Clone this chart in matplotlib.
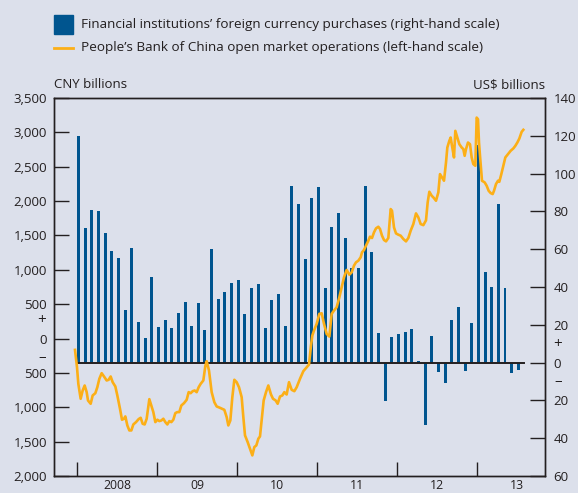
import numpy as np
import matplotlib.pyplot as plt
from matplotlib.patches import Rectangle
from matplotlib.lines import Line2D

plt.rcParams['font.family'] = ['Open Sans', 'DejaVu Sans']

# Financial institutions' foreign currency purchases, monthly Jan 2008 - Jul 2013
# (US$ billions, right-hand scale)
purchases = [120, 71, 81, 80.4, 68.8, 59.3, 55.6, 28, 60.8, 21.7, 13.2, 45.5,
             19, 22.8, 18.5, 26.5, 32.3, 19.6, 31.7, 17.5, 60.3, 33.9, 37.6, 42.3,
             43.9, 25.9, 39.7, 41.8, 18.5, 33.3, 36.5, 19.6, 93.7, 84.1, 55, 87.3,
             93.1, 39.7, 72, 79.4, 66.1, 50.3, 50.3, 93.7, 58.7, 15.9, -20.5, 13.8,
             15.3, 16.4, 18, 0.8, -33.2, 14.3, -5.1, -10.9, 22.8, 29.6, -4.6, 21.2,
             115.3, 48.1, 40.2, 84.1, 39.7, -5.7, -3.7]

# People's Bank of China open market operations (CNY billions, left-hand scale)
# time in months since start of 2008
omo_month = [-0.3, 0.0, 0.2, 0.55, 0.85, 1.15, 1.45, 1.65, 2.05, 2.35, 2.75, 3.05,
             3.35, 3.7, 4.05, 4.45, 4.75, 5.05, 5.35, 5.75, 6.05, 6.45, 6.75, 7.05,
             7.25, 7.55, 7.85, 8.15, 8.45, 8.85, 9.25, 9.55, 9.85, 10.15, 10.45, 10.85,
             11.15, 11.45, 11.75, 12.05, 12.35, 12.65, 12.95, 13.25, 13.55, 13.85, 14.15, 14.45,
             14.75, 15.05, 15.35, 15.65, 16.05, 16.45, 16.75, 17.05, 17.35, 17.65, 17.95, 18.25,
             18.55, 18.95, 19.25, 19.45, 19.8, 20.2, 20.6, 20.95, 21.45, 22.1, 22.45, 22.7,
             23.0, 23.3, 23.6, 23.95, 24.3, 24.7, 24.95, 25.2, 25.6, 25.95, 26.3, 26.6,
             26.9, 27.2, 27.45, 27.7, 28.0, 28.35, 28.7, 29.1, 29.4, 29.8, 30.1, 30.45,
             30.8, 31.1, 31.45, 31.8, 32.2, 32.6, 32.95, 33.45, 33.95, 34.45, 34.8, 35.1,
             35.3, 35.55, 35.95, 36.35, 36.7, 37.05, 37.45, 37.85, 38.2, 38.55, 38.95, 39.35,
             39.7, 40.05, 40.45, 40.85, 41.2, 41.55, 41.85, 42.2, 42.55, 42.75, 43.05, 43.35,
             43.7, 43.95, 44.25, 44.55, 44.85, 45.2, 45.45, 45.75, 46.05, 46.35, 46.7, 47.05,
             47.25, 47.55, 47.85, 48.2, 48.55, 48.95, 49.35, 49.7, 50.05, 50.45, 50.85, 51.2,
             51.55, 51.95, 52.35, 52.6, 52.85, 53.2, 53.45, 53.85, 54.2, 54.45, 54.75, 55.05,
             55.35, 55.55, 55.85, 56.05, 56.25, 56.55, 56.75, 57.05, 57.35, 57.7, 57.95, 58.15,
             58.35, 58.65, 58.95, 59.2, 59.45, 59.75, 59.95, 60.15, 60.3, 60.45, 60.75, 61.15,
             61.45, 61.75, 62.05, 62.35, 62.55, 62.85, 63.15, 63.35, 63.65, 63.95, 64.25, 64.65,
             65.05, 65.45, 65.75, 66.05, 66.35, 66.7, 66.95]
omo_value = [-165, -417, -659, -876, -756, -683, -780, -901, -949, -828, -795, -708,
             -586, -504, -552, -610, -600, -552, -635, -697, -828, -1022, -1181, -1167,
             -1133, -1264, -1337, -1337, -1250, -1216, -1172, -1153, -1240, -1250, -1167, -882,
             -974, -1070, -1216, -1181, -1201, -1192, -1167, -1216, -1250, -1201, -1216, -1181,
             -1085, -1070, -1070, -974, -940, -891, -780, -795, -766, -756, -780, -708,
             -659, -610, -400, -330, -465, -780, -926, -988, -1008, -1037, -1143, -1264,
             -1192, -853, -600, -635, -708, -853, -1143, -1409, -1507, -1603, -1700, -1579,
             -1555, -1458, -1424, -1192, -901, -780, -683, -814, -876, -901, -949, -843,
             -828, -780, -814, -635, -746, -766, -708, -586, -475, -417, -378, -102,
             44, 116, 214, 359, 368, 214, 68, 29, 359, 407, 455, 600,
             745, 891, 998, 930, 963, 1061, 1109, 1133, 1182, 1254, 1289, 1351,
             1424, 1482, 1463, 1545, 1603, 1627, 1594, 1497, 1434, 1414, 1463, 1884,
             1860, 1617, 1530, 1511, 1497, 1448, 1414, 1463, 1569, 1666, 1821, 1763,
             1666, 1650, 1720, 1980, 2136, 2078, 2054, 2005, 2126, 2393, 2344, 2296,
             2562, 2780, 2877, 2925, 2804, 2635, 3022, 2925, 2828, 2780, 2756, 2659,
             2756, 2852, 2828, 2635, 2538, 2514, 3215, 3191, 2852, 2659, 2296, 2272,
             2223, 2150, 2117, 2102, 2150, 2248, 2296, 2281, 2393, 2514, 2635, 2683,
             2732, 2766, 2804, 2852, 2910, 3008, 3037]

year_labels = ['2008', '09', '10', '11', '12', '13']
left_ticks = list(range(-2000, 3501, 500))
right_ticks = list(range(-60, 141, 20))

bg = '#dce0eb'
blue = '#00558f'
orange = '#fcaf17'
dark = '#231f20'
W, H = 578, 493

fig = plt.figure(figsize=(W / 100, H / 100), dpi=100, facecolor=bg)
ax = fig.add_axes([54 / W, 1 - 476 / H, 491 / W, 378 / H])
ax2 = ax.twinx()

# bars on the right-hand scale
months = np.arange(len(purchases))
ax2.bar(months + 0.2, purchases, width=0.45, color=blue, zorder=2)
ax2.plot([0, 67], [0, 0], color=dark, lw=1.4, zorder=3)

# line on the left-hand scale, drawn above the bars
ax.plot(omo_month, omo_value, color=orange, lw=1.9, solid_joinstyle='round')
ax.set_zorder(ax2.get_zorder() + 1)
ax.patch.set_visible(False)

ax.set_xlim(-3.45, 70.2)
ax.set_ylim(-2000, 3500)
ax2.set_ylim(-60, 140)

ax.set_yticks(left_ticks)
ax.set_yticklabels([f'{abs(v):,}' for v in left_ticks])
ax2.set_yticks(right_ticks)
ax2.set_yticklabels([f'{abs(v)}' for v in right_ticks])

ax.set_xticks(range(0, 61, 12))
ax.set_xticklabels([])
ax.set_xticks(range(6, 67, 12), minor=True)
ax.set_xticklabels(year_labels, minor=True)

ax.tick_params(axis='y', direction='in', length=11, width=1, color=dark,
               labelsize=9.5, labelcolor=dark, pad=5)
ax2.tick_params(axis='y', direction='in', length=11, width=1, color=dark,
                labelsize=9.5, labelcolor=dark, pad=6)
ax.tick_params(axis='x', which='major', direction='in', length=10, width=1, color=dark)
ax.tick_params(axis='x', which='minor', length=0, labelsize=8.8, labelcolor=dark, pad=2.5)

for a in (ax, ax2):
    for s in a.spines.values():
        s.set_color(dark)
        s.set_linewidth(1)

# + / - markers around the zero lines
fig.text(42 / W, 1 - 320 / H, '+', ha='center', va='center', fontsize=11, color=dark)
fig.text(42 / W, 1 - 357 / H, '\u2013', ha='center', va='center', fontsize=11, color=dark)
fig.text(558 / W, 1 - 344 / H, '+', ha='center', va='center', fontsize=11, color=dark)
fig.text(558 / W, 1 - 381 / H, '\u2013', ha='center', va='center', fontsize=11, color=dark)

fig.text(54 / W, 1 - 85 / H, 'CNY billions', ha='left', va='center', fontsize=9.5, color=dark)
fig.text(545 / W, 1 - 85 / H, 'US$ billions', ha='right', va='center', fontsize=9.5, color=dark)

# legend
fig.add_artist(Rectangle((54 / W, 1 - 34 / H), 19 / W, 19 / H,
                         transform=fig.transFigure, color=blue))
fig.add_artist(Line2D([54 / W, 73 / W], [1 - 48 / H, 1 - 48 / H],
                      transform=fig.transFigure, color=orange, lw=2))
fig.text(81 / W, 1 - 24.5 / H,
         'Financial institutions\u2019 foreign currency purchases (right-hand scale)',
         ha='left', va='center', fontsize=9.7, color=dark)
fig.text(81 / W, 1 - 48 / H,
         'People\u2019s Bank of China open market operations (left-hand scale)',
         ha='left', va='center', fontsize=9.7, color=dark)

fig.savefig('out.png', dpi=100, facecolor=bg)
